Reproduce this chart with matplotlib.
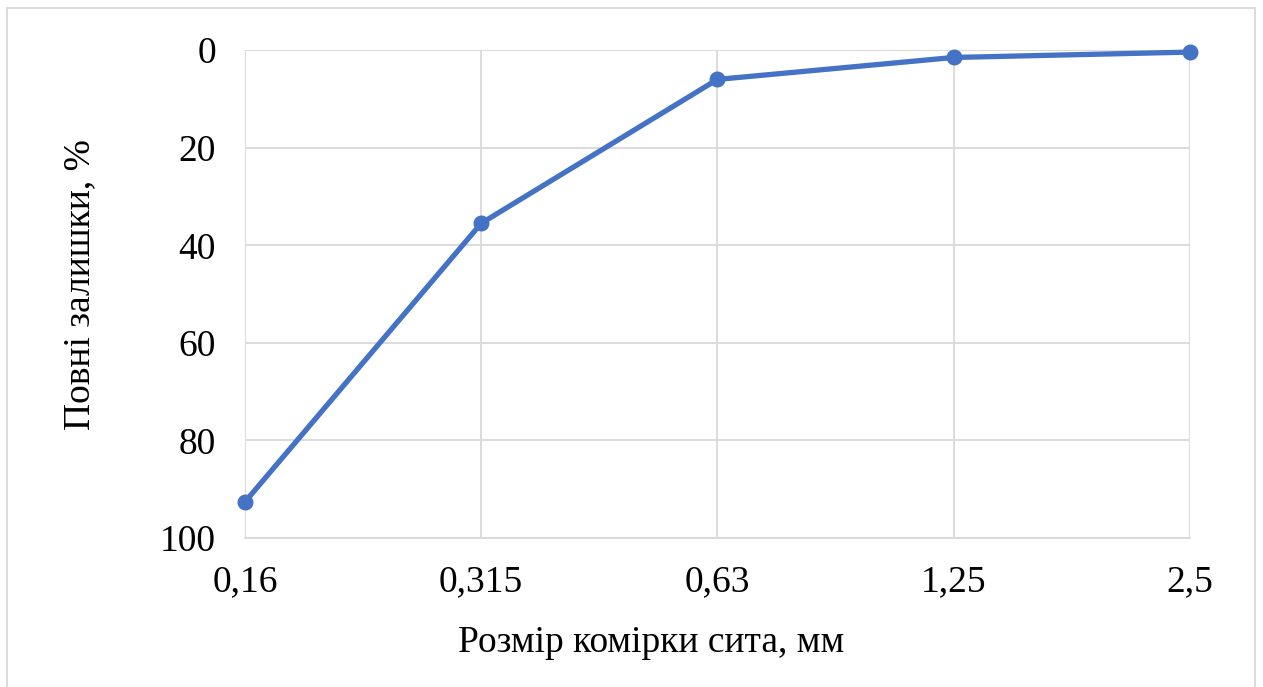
import matplotlib.pyplot as plt
from matplotlib.patches import Rectangle

# sieve analysis: cumulative residue per sieve opening
sieve_sizes = ["0,16", "0,315", "0,63", "1,25", "2,5"]
residue = [92.6, 35.5, 6.0, 1.5, 0.4]
y_ticks = [0, 20, 40, 60, 80, 100]

plt.rcParams['font.family'] = ['Liberation Serif', 'DejaVu Serif']

fig = plt.figure(figsize=(12.63, 6.87), dpi=100)
ax = fig.add_axes([0.194, 0.217, 0.748, 0.710])

grid_color = "#d9d9d9"
x = list(range(len(sieve_sizes)))
ax.plot(x, residue, color="#4472C4", linewidth=3.8, marker="o", markersize=10.5,
        solid_capstyle="round", zorder=3, clip_on=False)

ax.set_xlim(0, len(sieve_sizes) - 1)
ax.set_ylim(100, 0)
ax.set_xticks(x)
ax.set_xticklabels(sieve_sizes)
ax.set_yticks(y_ticks)
ax.grid(True, color=grid_color, linewidth=1.3)
ax.set_axisbelow(True)

for side in ["top", "right", "left"]:
    ax.spines[side].set_visible(False)
ax.spines["bottom"].set_color(grid_color)
ax.spines["bottom"].set_linewidth(1.3)
ax.tick_params(axis="both", length=0, labelsize=27, colors="black")
ax.tick_params(axis="y", pad=21)
ax.tick_params(axis="x", pad=19)

ax.set_xlabel("Розмір комірки сита, мм", fontsize=27, labelpad=19)
ax.set_ylabel("Повні залишки, %", fontsize=27, labelpad=45)
ax.xaxis.label.set_x(0.43)
ax.yaxis.label.set_y(0.52)

# light frame around the chart area
fig.patches.append(Rectangle((7 / 1263, -0.02), 1248 / 1263, 1 - 8 / 687 + 0.02,
                             transform=fig.transFigure, fill=False,
                             edgecolor=grid_color, linewidth=1.3))

fig.savefig("out.png", dpi=100)
